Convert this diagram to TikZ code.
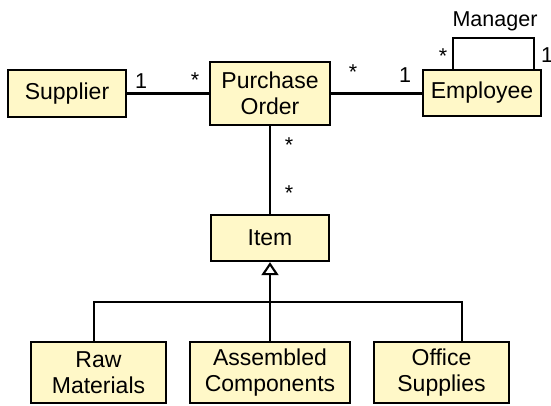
\documentclass[tikz,border=0pt]{standalone}
\usepackage{fontspec}
\setmainfont{Liberation Sans}
\usetikzlibrary{arrows.meta,calc}
\definecolor{boxfill}{HTML}{FFF8C8}
\begin{document}
\begin{tikzpicture}[x=1pt,y=1pt,
  cls/.style={draw, line width=2.4pt, fill=boxfill, inner sep=0pt, align=center,
              font=\fontsize{23}{26.5}\selectfont},
  lbl/.style={anchor=base, inner sep=0pt, font=\fontsize{21.5}{24}\selectfont},
  conn/.style={line width=2.1pt},
  gen/.style={conn, -{Triangle[open, length=13pt, width=17pt, line width=2.1pt]}}]
\useasboundingbox (0,0) rectangle (551,406);
% classes
\node[cls, minimum width=118, minimum height=47] (sup) at (67,406-93.5) {Supplier};
\node[cls, minimum width=120, minimum height=63] (po) at (270,406-93.5) {Purchase\\Order};
\node[cls, minimum width=118, minimum height=46] (emp) at (482,406-93) {Employee};
\node[cls, minimum width=118, minimum height=46] (item) at (270,406-238) {Item};
\node[cls, minimum width=135, minimum height=61] (raw) at (98.5,406-372.5) {Raw\\Materials};
\node[cls, minimum width=160, minimum height=61] (ac) at (270,406-372.5) {Assembled\\Components};
\node[cls, minimum width=135, minimum height=61] (off) at (441.5,406-372.5) {Office\\Supplies};
% associations
\draw[conn] (sup) -- (po);
\draw[conn] (po.east) -- (po.east -| emp.west);
\draw[conn] (po) -- (item);
\draw[conn] ($(emp.north)+(-29,0)$) -- ++(0,31) -| ($(emp.north)+(52,0)$);
% generalization
\coordinate (bl) at (94,406-302);
\coordinate (br) at (462,406-302);
\draw[conn] (raw.north -| bl) -- (bl) -- (br) -- (off.north -| br);
\draw[gen] (ac.north) -- (item.south);
% multiplicities
\node[lbl] (s1) at (141,406-89) {1};
\node[lbl] (s2) at (195,406-88) {*};
\node[lbl] (e1) at (353,406-80) {*};
\node[lbl] (e2) at (405,406-83) {1};
\node[lbl] (m1) at (443,406-64) {*};
\node[lbl] (m2) at (547,406-63) {1};
\node[lbl] (mgr) at (495,406-27) {Manager};
\node[lbl] (v1) at (289,406-153) {*};
\node[lbl] (v2) at (289,406-201) {*};
\end{tikzpicture}
\end{document}
